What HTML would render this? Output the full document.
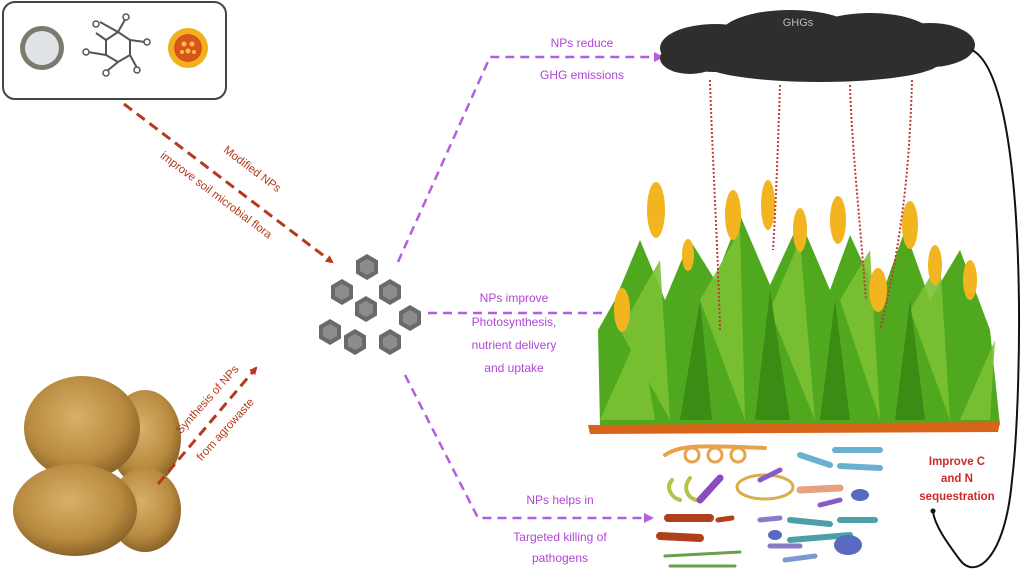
<!DOCTYPE html>
<html><head><meta charset="utf-8"><style>
html,body{margin:0;padding:0;background:#fff}
svg{display:block;font-family:"Liberation Sans",sans-serif}
</style></head><body>
<svg width="1024" height="576" viewBox="0 0 1024 576" xmlns="http://www.w3.org/2000/svg">
<defs>
<marker id="ar" markerWidth="8" markerHeight="8" refX="6" refY="4" orient="auto" markerUnits="userSpaceOnUse"><path d="M0,0 L8,4 L0,8 z" fill="#b5391c"/></marker>
<marker id="ap" markerWidth="10" markerHeight="10" refX="8" refY="5" orient="auto" markerUnits="userSpaceOnUse"><path d="M0,0 L10,5 L0,10 z" fill="#b45ee0"/></marker>
<radialGradient id="hay" cx="45%" cy="40%" r="60%"><stop offset="0" stop-color="#d8b068"/><stop offset="0.7" stop-color="#b88a40"/><stop offset="1" stop-color="#8a6428"/></radialGradient>
<g id="hex"><polygon points="0,-13 11,-6.5 11,6.5 0,13 -11,6.5 -11,-6.5" fill="#6a6a6a"/><polygon points="0,-8 7,-4 7,4 0,8 -7,4 -7,-4" fill="#8c8c8c"/></g>
</defs>

<ellipse cx="145" cy="438" rx="36" ry="48" fill="url(#hay)"/>
<ellipse cx="82" cy="428" rx="58" ry="52" fill="url(#hay)"/>
<ellipse cx="145" cy="510" rx="36" ry="42" fill="url(#hay)"/>
<ellipse cx="75" cy="510" rx="62" ry="46" fill="url(#hay)"/>

<rect x="3" y="2" width="223" height="97" rx="12" fill="#fff" stroke="#444" stroke-width="2"/>
<circle cx="42" cy="48" r="22" fill="#7a7a6e"/><circle cx="42" cy="48" r="17" fill="#dfe3e6"/>
<g stroke="#555" stroke-width="2" fill="none">
<polygon points="118,32 130,40 130,55 118,62 106,55 106,40"/>
<line x1="106" y1="40" x2="96" y2="33"/><line x1="118" y1="32" x2="126" y2="18"/><line x1="130" y1="40" x2="145" y2="42"/><line x1="130" y1="55" x2="137" y2="68"/><line x1="118" y1="62" x2="107" y2="71"/><line x1="106" y1="55" x2="88" y2="52"/><line x1="118" y1="32" x2="100" y2="22"/>
</g>
<g fill="#fff" stroke="#555" stroke-width="1.5"><circle cx="96" cy="24" r="3"/><circle cx="126" cy="17" r="3"/><circle cx="147" cy="42" r="3"/><circle cx="137" cy="70" r="3"/><circle cx="106" cy="73" r="3"/><circle cx="86" cy="52" r="3"/></g>
<circle cx="188" cy="48" r="20" fill="#f2b01c"/><circle cx="188" cy="48" r="14" fill="#d9541a"/>
<g fill="#f7c24a"><circle cx="184" cy="44" r="2.5"/><circle cx="192" cy="44" r="2.5"/><circle cx="188" cy="51" r="2.5"/><circle cx="182" cy="52" r="2"/><circle cx="194" cy="52" r="2"/></g>

<line x1="124" y1="104" x2="332" y2="262" stroke="#b5391c" stroke-width="3" stroke-dasharray="10,6" marker-end="url(#ar)"/>
<g fill="#b5391c" font-size="11.5" text-anchor="middle">
<text transform="translate(250,172) rotate(37)">Modified NPs</text>
<text transform="translate(214,198) rotate(37)">improve soil microbial flora</text>
<text transform="translate(210,402) rotate(-48)">Synthesis of NPs</text>
<text transform="translate(228,432) rotate(-48)">from agrowaste</text>
</g>
<line x1="158" y1="484" x2="256" y2="368" stroke="#b5391c" stroke-width="3" stroke-dasharray="10,6" marker-end="url(#ar)"/>

<use href="#hex" x="367" y="267"/><use href="#hex" x="342" y="292"/><use href="#hex" x="390" y="292"/><use href="#hex" x="366" y="309"/><use href="#hex" x="410" y="318"/><use href="#hex" x="330" y="332"/><use href="#hex" x="355" y="342"/><use href="#hex" x="390" y="342"/>

<g stroke="#b45ee0" stroke-width="2.5" stroke-dasharray="9,6" fill="none">
<polyline points="398,262 490,57 662,57" marker-end="url(#ap)"/>
<line x1="428" y1="313" x2="620" y2="313" marker-end="url(#ap)"/>
<polyline points="405,375 478,518 652,518" marker-end="url(#ap)"/>
</g>
<g fill="#b045d8" font-size="12" text-anchor="middle">
<text x="582" y="47">NPs reduce</text><text x="582" y="79">GHG emissions</text>
<text x="514" y="302">NPs improve</text><text x="514" y="326">Photosynthesis,</text><text x="514" y="349">nutrient delivery</text><text x="514" y="372">and uptake</text>
<text x="560" y="504">NPs helps in</text><text x="560" y="541">Targeted killing of</text><text x="560" y="562">pathogens</text>
</g>

<g fill="#2e2e2e">
<ellipse cx="715" cy="48" rx="55" ry="24"/><ellipse cx="790" cy="35" rx="70" ry="25"/><ellipse cx="870" cy="38" rx="65" ry="25"/><ellipse cx="930" cy="45" rx="45" ry="22"/><ellipse cx="820" cy="62" rx="120" ry="20"/><ellipse cx="690" cy="58" rx="30" ry="16"/>
</g>
<text x="798" y="26" fill="#bbb" font-size="11" text-anchor="middle">GHGs</text>

<path d="M972,50 C1030,80 1022,400 1012,480 C1005,560 975,580 960,560 C945,540 935,525 933,512" fill="none" stroke="#111" stroke-width="2"/>
<circle cx="933" cy="511" r="2.5" fill="#111"/>

<g fill="#4fa81e">
<path d="M600,425 L1000,425 L990,330 L960,250 L930,300 L905,230 L880,300 L850,235 L830,290 L800,220 L770,285 L740,215 L715,280 L690,240 L665,300 L640,240 L615,300 L598,330 Z"/>
</g>
<g fill="#7cc234" opacity="0.9">
<path d="M620,330 L660,260 L670,420 Z"/><path d="M700,300 L740,230 L745,420 Z"/><path d="M770,310 L800,240 L815,420 Z"/><path d="M840,300 L870,250 L880,420 Z"/><path d="M910,310 L940,260 L950,420 Z"/>
<path d="M600,420 L640,330 L655,420 Z"/><path d="M960,420 L995,340 L990,420 Z"/>
</g>
<g fill="#3b8c14">
<path d="M680,420 L700,300 L712,420 Z"/><path d="M755,420 L770,290 L790,420 Z"/><path d="M820,420 L835,300 L850,420 Z"/><path d="M895,420 L910,300 L925,420 Z"/>
</g>
<g fill="#f2b51f">
<ellipse cx="656" cy="210" rx="9" ry="28"/><ellipse cx="733" cy="215" rx="8" ry="25"/><ellipse cx="768" cy="205" rx="7" ry="25"/><ellipse cx="800" cy="230" rx="7" ry="22"/><ellipse cx="838" cy="220" rx="8" ry="24"/><ellipse cx="910" cy="225" rx="8" ry="24"/><ellipse cx="935" cy="265" rx="7" ry="20"/><ellipse cx="970" cy="280" rx="7" ry="20"/><ellipse cx="688" cy="255" rx="6" ry="16"/><ellipse cx="622" cy="310" rx="8" ry="22"/><ellipse cx="878" cy="290" rx="9" ry="22"/>
</g>
<path d="M588,425 L1000,422 L998,432 L590,434 Z" fill="#d8641a"/>
<g stroke="#c03a3a" stroke-width="2" stroke-dasharray="2,2" fill="none">
<path d="M710,80 C712,150 718,250 720,330"/><path d="M780,85 C778,150 775,220 773,250"/><path d="M850,85 C852,150 860,220 866,300"/><path d="M912,80 C910,150 905,230 880,330"/>
</g>

<g fill="none" stroke-width="4" stroke-linecap="round">
<path d="M665,455 C680,445 700,445 765,448" stroke="#e8a34a"/>
<circle cx="692" cy="455" r="7" stroke="#e8a34a" stroke-width="3"/><circle cx="715" cy="455" r="7" stroke="#e8a34a" stroke-width="3"/><circle cx="738" cy="455" r="7" stroke="#e8a34a" stroke-width="3"/>
<path d="M672,480 C665,488 672,498 680,500" stroke="#b7c24a"/><path d="M690,478 C682,488 688,498 696,500" stroke="#b7c24a"/>
<ellipse cx="765" cy="487" rx="28" ry="12" stroke="#d8b04a" stroke-width="3"/>
<path d="M700,500 L720,478" stroke="#8a4ac0" stroke-width="7"/>
<path d="M668,518 L710,518" stroke="#b0401c" stroke-width="8"/><path d="M660,536 L700,538" stroke="#b0401c" stroke-width="8"/>
<path d="M718,520 L732,518" stroke="#b0401c" stroke-width="5"/>
<path d="M665,556 L740,552 M670,566 L735,566" stroke="#6aa04a" stroke-width="3"/>
<path d="M800,455 L830,465 M835,450 L880,450 M840,466 L880,468" stroke="#6ab0d0" stroke-width="6"/>
<path d="M800,490 L840,488" stroke="#e8a080" stroke-width="7"/>
<path d="M790,520 L830,524 M840,520 L875,520 M790,540 L850,535" stroke="#4aa0a8" stroke-width="6"/>
<path d="M760,520 L780,518 M770,546 L800,546" stroke="#8a7ac8" stroke-width="5"/>
<path d="M785,560 L815,556" stroke="#7a9ad0" stroke-width="5"/>
<path d="M760,480 L780,470 M820,505 L840,500" stroke="#8a5ac8" stroke-width="5"/>
</g>
<g fill="#5a6ac0"><ellipse cx="848" cy="545" rx="14" ry="10"/><ellipse cx="860" cy="495" rx="9" ry="6"/><ellipse cx="775" cy="535" rx="7" ry="5"/></g>
<g fill="#cc2a2a" font-size="11.5" font-weight="bold" text-anchor="middle">
<text x="957" y="465">Improve C</text><text x="957" y="482">and N</text><text x="957" y="500">sequestration</text>
</g>
</svg>
</body></html>
